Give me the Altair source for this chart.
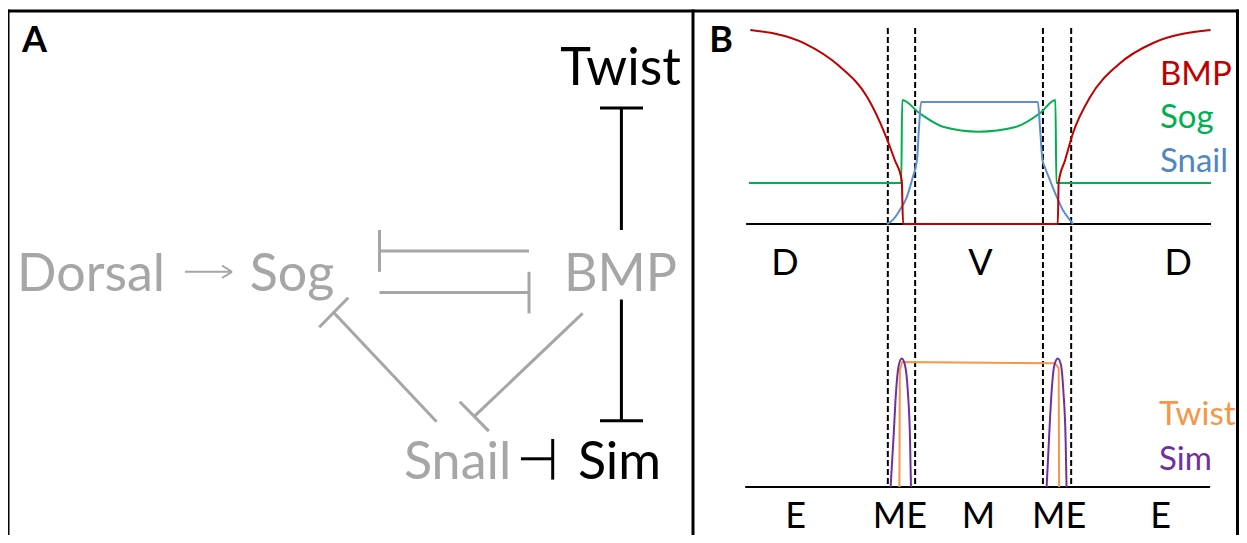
import altair as alt
import pandas as pd

# ---------------- Panel A: regulatory network (layout units) ----------------
node_names = ["Twist", "BMP", "Sim", "Snail", "Dorsal", "Sog"]
node_x = [620.5, 620.5, 619.5, 457.6, 91.0, 292.0]
node_y = [84.8, 291.0, 479.0, 479.0, 291.0, 291.0]
node_col = ["#000000", "#A6A6A6", "#000000", "#A6A6A6", "#A6A6A6", "#A6A6A6"]

# edges drawn as segments: (x1, y1) -> (x2, y2)
edge_x1 = [621.4, 600.0, 621.4, 600.0, 521.0, 552.7,
           185.0, 232.0, 232.0, 379.5, 379.5, 379.5, 529.0, 436.6, 319.2, 582.6, 459.8]
edge_y1 = [108.0, 108.0, 299.5, 420.7, 458.8, 439.0,
           271.8, 271.8, 271.8, 251.0, 230.0, 292.6, 271.8, 421.7, 327.2, 313.4, 401.7]
edge_x2 = [621.4, 643.0, 621.4, 643.0, 552.7, 552.7,
           230.0, 222.0, 222.0, 529.0, 379.5, 529.0, 529.0, 333.7, 348.2, 474.3, 488.8]
edge_y2 = [230.0, 108.0, 420.7, 420.7, 458.8, 479.6,
           271.8, 265.5, 278.0, 251.0, 271.8, 292.6, 313.4, 312.5, 297.8, 416.4, 431.1]
edge_col = ["#000000"] * 6 + ["#A6A6A6"] * 11
edge_w = [3] * 6 + [2, 2, 2] + [3] * 8

# ---------------- Panel B: expression profiles ----------------
# position across the section (0..100), level (0..100)
bmp_pos = [0.5, 12.2, 19.7, 25.7, 29.5, 31.7, 33.2, 33.5, 66.9, 67.1, 68.5, 70.2, 73.9, 79.9, 87.5, 99.9]
bmp_lvl = [100, 93.1, 81.4, 65.6, 46.9, 33.0, 22.7, 0, 0, 21.6, 33.0, 46.9, 65.5, 82.0, 93.3, 100]

sog_pos = [0.2, 33.1, 33.3, 37.0, 42.3, 49.8, 57.8, 63.1, 66.4, 66.6, 100]
sog_lvl = [21.1, 21.1, 63.9, 57.2, 50.0, 47.6, 50.0, 57.2, 63.9, 21.1, 21.1]

snail_pos = [30.0, 31.3, 32.8, 34.3, 35.6, 36.5, 36.9, 37.4, 62.6, 63.1, 63.6, 64.1, 65.2, 66.7, 68.0, 69.5, 70.2]
snail_lvl = [0, 2.1, 7.2, 13.9, 24.2, 33.0, 48.5, 62.9, 62.9, 48.5, 33.0, 29.4, 22.7, 13.9, 7.2, 2.1, 0]

sim_pos = [30.8, 31.4, 32.0, 32.5, 33.2, 33.9, 34.5, 35.0, 35.2,
           64.5, 65.0, 65.6, 66.1, 66.9, 67.6, 68.1, 68.6, 68.8]
sim_lvl = [0, 24.2, 50.0, 62.0, 66.3, 62.9, 50.0, 24.2, 0,
           0, 24.2, 50.0, 62.0, 66.3, 62.9, 50.0, 24.2, 0]
sim_seg = [0] * 9 + [1] * 9

twist_pos = [32.7, 32.8, 33.3, 66.3, 67.1, 67.2]
twist_lvl = [0, 60.3, 64.4, 63.8, 61.3, 0]

boundary_pos = [30.2, 36.1, 63.7, 69.8]

top_regions = ["D", "V", "D"]
top_region_pos = [8.0, 50.2, 92.9]
bot_regions = ["E", "ME", "M", "ME", "E"]
bot_region_pos = [10.3, 32.8, 49.8, 67.2, 89.1]

legend_top = ["BMP", "Sog", "Snail"]
legend_top_col = ["#C00000", "#00B050", "#4F86C6"]
legend_bot = ["Twist", "Sim"]
legend_bot_col = ["#F79646", "#7030A0"]

# ---------------- layout constants ----------------
B_X0, B_SX, B_SY = 748.0, 4.63, 1.94
TOP_BASE, BOT_BASE = 224.0, 487.0
FONT = "Lato"
W, H = 1231, 527

xs = alt.Scale(domain=[8, 8 + W], nice=False, zero=False)
ys = alt.Scale(domain=[8, 8 + H], nice=False, zero=False, reverse=True)


def ex(f):
    return alt.X(f, type="quantitative", scale=xs, axis=None)


def ey(f):
    return alt.Y(f, type="quantitative", scale=ys, axis=None)


layers = []

# frame
R = 8 + W - 1.5
frame = pd.DataFrame({
    "x1": [8, 8, 693, R], "y1": [11, 11, 11, 11],
    "x2": [R, 8, 693, R], "y2": [11, 8 + H, 8 + H, 8 + H],
})
layers.append(alt.Chart(frame).mark_rule(color="black", strokeWidth=3, strokeCap="square").encode(
    x=ex("x1"), y=ey("y1"), x2="x2", y2="y2"))

# panel A edges
edges = pd.DataFrame({"x1": edge_x1, "y1": edge_y1, "x2": edge_x2, "y2": edge_y2,
                      "c": edge_col, "w": edge_w})
layers.append(alt.Chart(edges).mark_rule().encode(
    x=ex("x1"), y=ey("y1"), x2="x2", y2="y2",
    color=alt.Color("c:N", scale=None), strokeWidth=alt.StrokeWidth("w:Q", scale=None)))

# panel A nodes
nodes = pd.DataFrame({"t": node_names, "x": node_x, "y": node_y, "c": node_col})
layers.append(alt.Chart(nodes).mark_text(font=FONT, fontSize=52, align="center", baseline="alphabetic").encode(
    x=ex("x"), y=ey("y"), text="t:N", color=alt.Color("c:N", scale=None)))

# panel letters
letters = pd.DataFrame({"t": ["A", "B"], "x": [34.5, 721.0], "y": [52.0, 52.0]})
layers.append(alt.Chart(letters).mark_text(font=FONT, fontSize=36, fontWeight="bold", align="center",
                                           baseline="alphabetic", color="black").encode(
    x=ex("x"), y=ey("y"), text="t:N"))

# baselines of the two profile plots
base_df = pd.DataFrame({"p1": [-0.4, -0.6], "p2": [100.0, 99.8], "b": [TOP_BASE, BOT_BASE]})
layers.append(alt.Chart(base_df).transform_calculate(
    X1=f"{B_X0} + {B_SX}*datum.p1", X2=f"{B_X0} + {B_SX}*datum.p2", Y="datum.b"
).mark_rule(color="black", strokeWidth=2).encode(x=ex("X1"), x2="X2", y=ey("Y")))

# dashed boundaries (from top of panel B down to the lower baseline)
bd = pd.DataFrame({"p": boundary_pos})
layers.append(alt.Chart(bd).transform_calculate(
    X=f"{B_X0} + {B_SX}*datum.p", Y1="28", Y2=str(BOT_BASE)
).mark_rule(color="black", strokeWidth=2, strokeDash=[6, 3]).encode(x=ex("X"), y=ey("Y1"), y2="Y2"))


def curve(pos, lvl, base, color, interp, seg=None):
    df = pd.DataFrame({"pos": pos, "lvl": lvl, "i": list(range(len(pos))),
                       "s": seg if seg is not None else [0] * len(pos)})
    return alt.Chart(df).transform_calculate(
        X=f"{B_X0} + {B_SX}*datum.pos", Y=f"{base} - {B_SY}*datum.lvl"
    ).mark_line(color=color, strokeWidth=2, interpolate=interp).encode(
        x=ex("X"), y=ey("Y"), order="i:Q", detail="s:N")


layers.append(curve(sog_pos, sog_lvl, TOP_BASE, "#00B050", "monotone"))
layers.append(curve(snail_pos, snail_lvl, TOP_BASE, "#5B8FD0", "monotone"))
layers.append(curve(bmp_pos, bmp_lvl, TOP_BASE, "#C00000", "monotone"))
layers.append(curve(twist_pos, twist_lvl, BOT_BASE, "#F79646", "linear"))
layers.append(curve(sim_pos, sim_lvl, BOT_BASE, "#7030A0", "monotone", sim_seg))

# region labels
tr = pd.DataFrame({"t": top_regions, "p": top_region_pos})
layers.append(alt.Chart(tr).transform_calculate(X=f"{B_X0} + {B_SX}*datum.p", Y="275").mark_text(
    font=FONT, fontSize=36, align="center", baseline="alphabetic", color="black").encode(
    x=ex("X"), y=ey("Y"), text="t:N"))
br = pd.DataFrame({"t": bot_regions, "p": bot_region_pos})
layers.append(alt.Chart(br).transform_calculate(X=f"{B_X0} + {B_SX}*datum.p", Y="528").mark_text(
    font=FONT, fontSize=36, align="center", baseline="alphabetic", color="black").encode(
    x=ex("X"), y=ey("Y"), text="t:N"))

# legends
lt = pd.DataFrame({"t": legend_top, "c": legend_top_col, "y": [85.0, 128.0, 172.0]})
layers.append(alt.Chart(lt).transform_calculate(X="1160").mark_text(
    font=FONT, fontSize=33, align="left", baseline="alphabetic").encode(
    x=ex("X"), y=ey("y"), text="t:N", color=alt.Color("c:N", scale=None)))
lb = pd.DataFrame({"t": legend_bot, "c": legend_bot_col, "y": [425.0, 470.0]})
layers.append(alt.Chart(lb).transform_calculate(X="1159").mark_text(
    font=FONT, fontSize=33, align="left", baseline="alphabetic").encode(
    x=ex("X"), y=ey("y"), text="t:N", color=alt.Color("c:N", scale=None)))

chart = alt.layer(*layers).properties(
    width=W, height=H, padding=0, autosize="none", background="white"
).configure_view(stroke=None)

chart.save("out.html", embed_options={"renderer": "svg", "actions": False})
